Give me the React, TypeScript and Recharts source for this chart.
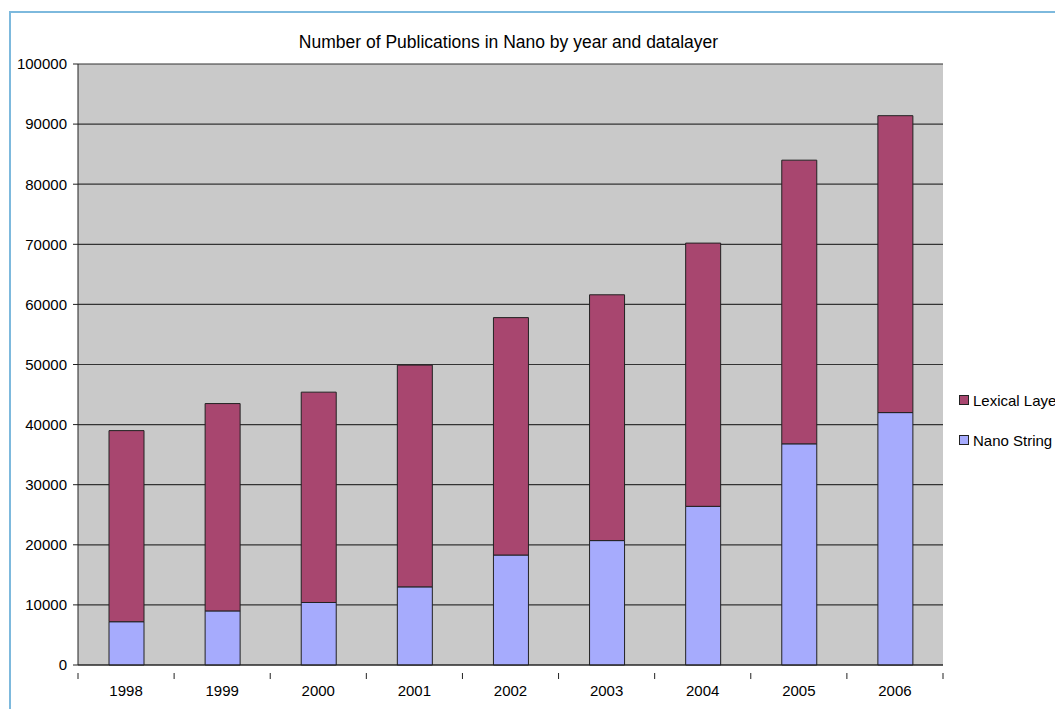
import React from "react";
import { BarChart, Bar, XAxis, YAxis, CartesianGrid } from "recharts";

const years = ["1998", "1999", "2000", "2001", "2002", "2003", "2004", "2005", "2006"];
const nanoString = [7200, 9000, 10400, 13000, 18300, 20700, 26400, 36800, 42000];
const lexicalLayer = [31800, 34500, 35000, 36900, 39500, 40900, 43800, 47200, 49400];
const yTicks = [0, 10000, 20000, 30000, 40000, 50000, 60000, 70000, 80000, 90000, 100000];

const data = years.map((year, i) => ({
  year,
  nano: nanoString[i],
  lexical: lexicalLayer[i],
}));

const FONT = "'Liberation Sans', Arial, sans-serif";
const W = 1055;
const H = 709;
const PLOT_LEFT = 78;
const PLOT_RIGHT = 943;
const BAND = (PLOT_RIGHT - PLOT_LEFT) / years.length;

const LEX_COLOR = "#a8466f";
const NANO_COLOR = "#a6abfd";

// excel-like x tick: label at center, tick marks between categories
const YearTick = (props: any) => {
  const { x, y, payload, index } = props;
  const last = index === years.length - 1;
  return (
    <g>
      <line x1={x - BAND / 2} x2={x - BAND / 2} y1={y} y2={y + 6} stroke="#222" />
      {last && <line x1={x + BAND / 2} x2={x + BAND / 2} y1={y} y2={y + 6} stroke="#222" />}
      <text x={x} y={y + 23} textAnchor="middle" fontSize={15} fill="#000" fontFamily={FONT}>
        {payload.value}
      </text>
    </g>
  );
};

const legendItems = [
  { name: "Lexical Laye", color: LEX_COLOR },
  { name: "Nano String", color: NANO_COLOR },
];

export default function App() {
  return (
    <div
      style={{
        position: "absolute",
        left: 0,
        top: 0,
        width: W,
        height: H,
        overflow: "hidden",
        background: "#fff",
      }}
    >
      <div
        style={{
          position: "absolute",
          left: 9,
          top: 11,
          width: W,
          height: H,
          borderTop: "2px solid #7db9dd",
          borderLeft: "2px solid #7db9dd",
        }}
      />
      <div
        style={{
          position: "absolute",
          top: 32,
          left: 0,
          width: 1017,
          textAlign: "center",
          fontFamily: FONT,
          fontSize: 17.5,
          color: "#000",
        }}
      >
        Number of Publications in Nano by year and datalayer
      </div>
      <div style={{ position: "absolute", left: 0, top: 0 }}>
        <BarChart
          width={W}
          height={H}
          data={data}
          margin={{ top: 64, right: W - PLOT_RIGHT, left: PLOT_LEFT - 62, bottom: 14 }}
        >
          <CartesianGrid
            vertical={false}
            stroke="#333"
            strokeWidth={1.2}
            fill="#c9c9c9"
            horizontalValues={yTicks}
          />
          <XAxis
            dataKey="year"
            height={30}
            axisLine={{ stroke: "#222" }}
            tickLine={false}
            tick={<YearTick />}
            interval={0}
          />
          <YAxis
            width={62}
            domain={[0, 100000]}
            ticks={yTicks}
            interval={0}
            axisLine={{ stroke: "#222" }}
            tickLine={{ stroke: "#222" }}
            tickSize={5}
            tickMargin={6}
            tick={{ fontSize: 15, fill: "#000", fontFamily: FONT }}
          />
          <Bar
            dataKey="nano"
            name="Nano String"
            stackId="a"
            fill={NANO_COLOR}
            stroke="#222"
            strokeWidth={1}
            barSize={35}
            isAnimationActive={false}
          />
          <Bar
            dataKey="lexical"
            name="Lexical Laye"
            stackId="a"
            fill={LEX_COLOR}
            stroke="#222"
            strokeWidth={1}
            barSize={35}
            isAnimationActive={false}
          />
        </BarChart>
      </div>
      <div
        style={{
          position: "absolute",
          left: 959,
          top: 380,
          fontFamily: FONT,
          fontSize: 15,
          color: "#000",
        }}
      >
        {legendItems.map((it) => (
          <div key={it.name} style={{ display: "flex", alignItems: "center", height: 40 }}>
            <span
              style={{
                display: "inline-block",
                width: 8,
                height: 8,
                background: it.color,
                border: "1px solid #222",
                marginRight: 4,
              }}
            />
            <span style={{ whiteSpace: "nowrap" }}>{it.name}</span>
          </div>
        ))}
      </div>
    </div>
  );
}
